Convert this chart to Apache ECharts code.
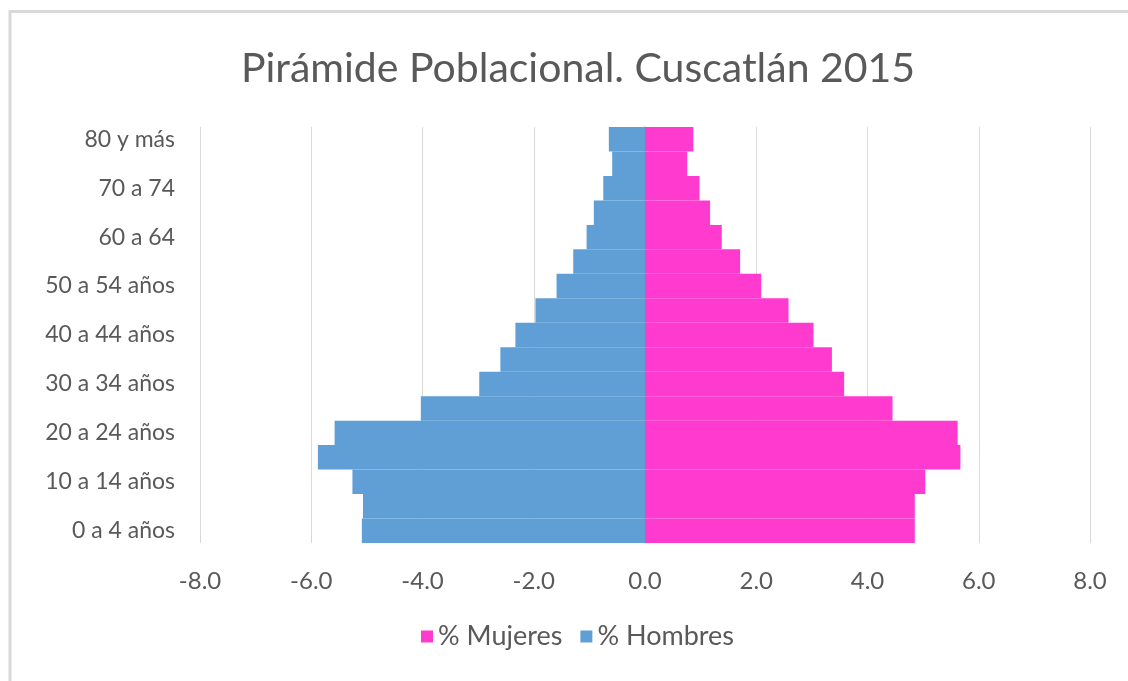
<!DOCTYPE html>
<html>
<head>
<meta charset="utf-8">
<title>Pirámide Poblacional. Cuscatlán 2015</title>
<script src="https://cdn.jsdelivr.net/npm/echarts@6/dist/echarts.min.js"></script>
<style>
  html, body { margin: 0; padding: 0; background: #fff; }
  #main { width: 1128px; height: 681px; }
</style>
</head>
<body>
<div id="main"></div>
<script type="text/javascript">
    // grupos de edad, de abajo hacia arriba
    var grupos = ['0 a 4 años', '5 a 9 años', '10 a 14 años', '15 a 19 años', '20 a 24 años',
        '25 a 29 años', '30 a 34 años', '35 a 39 años', '40 a 44 años', '45 a 49 años',
        '50 a 54 años', '55 a 59 años', '60 a 64', '65 a 69', '70 a 74', '75 a 79', '80 y más'];

    // porcentajes
    var mujeres = [4.85, 4.85, 5.04, 5.67, 5.62, 4.45, 3.58, 3.36, 3.03, 2.58,
        2.09, 1.71, 1.38, 1.17, 0.98, 0.76, 0.87];
    var hombres = [-5.09, -5.07, -5.26, -5.88, -5.58, -4.03, -2.98, -2.60, -2.33, -1.97,
        -1.59, -1.29, -1.05, -0.92, -0.75, -0.59, -0.65];

    var xTicks = { min: -8, max: 8, step: 2 };

    var fuente = 'Lato, "Open Sans", sans-serif';
    var gris = '#595959';

    var myChart = echarts.init(document.getElementById('main'));

    var option = {
        animation: false,
        textStyle: { fontFamily: fuente },
        graphic: [{
            type: 'rect',
            shape: { x: 10, y: 11.5, width: 1300, height: 900 },
            style: { fill: 'none', stroke: '#d9d9d9', lineWidth: 3 },
            silent: true
        }],
        title: {
            text: 'Pirámide Poblacional. Cuscatlán 2015',
            left: 236,
            top: 43,
            textStyle: { fontFamily: fuente, fontSize: 41, fontWeight: 'normal', color: gris }
        },
        legend: {
            data: ['% Mujeres', '% Hombres'],
            bottom: 26,
            left: 416,
            icon: 'rect',
            itemWidth: 12,
            itemHeight: 12,
            itemGap: 18,
            textStyle: { fontFamily: fuente, fontSize: 27, color: gris }
        },
        grid: { left: 200, right: 38, top: 127, bottom: 138 },
        xAxis: {
            type: 'value',
            min: xTicks.min,
            max: xTicks.max,
            interval: xTicks.step,
            axisLine: { show: false },
            axisTick: { show: false },
            splitLine: { lineStyle: { color: '#d9d9d9', width: 1 } },
            axisLabel: {
                margin: 26,
                fontSize: 24,
                color: gris,
                fontFamily: fuente,
                formatter: function (v) { return v.toFixed(1); }
            }
        },
        yAxis: {
            type: 'category',
            data: grupos,
            axisTick: { show: false },
            axisLine: { onZero: true, lineStyle: { color: '#d9d9d9', width: 2 } },
            axisLabel: {
                interval: 1,
                margin: 25,
                fontSize: 23,
                color: gris,
                fontFamily: fuente
            }
        },
        series: [
            {
                name: '% Mujeres',
                type: 'bar',
                stack: 'pir',
                barCategoryGap: 0,
                data: mujeres,
                itemStyle: { color: '#ff3acf' }
            },
            {
                name: '% Hombres',
                type: 'bar',
                stack: 'pir',
                barCategoryGap: 0,
                data: hombres,
                itemStyle: { color: '#5f9fd6' }
            }
        ]
    };

    myChart.setOption(option);
</script>
</body>
</html>
